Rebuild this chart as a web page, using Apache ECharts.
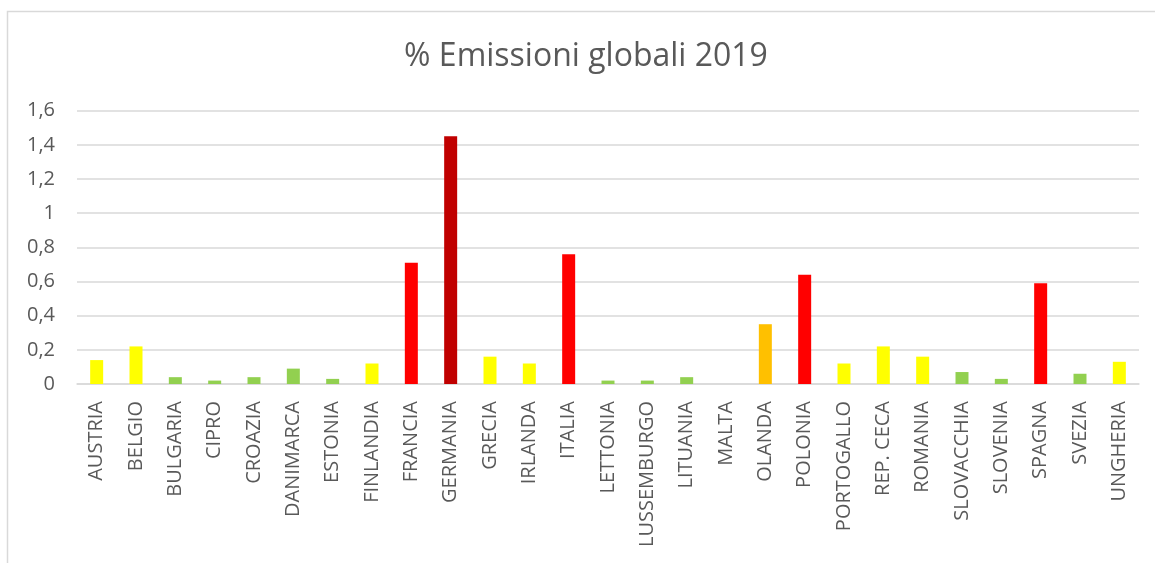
<!DOCTYPE html>
<html>
<head>
<meta charset="utf-8">
<script src="https://cdn.jsdelivr.net/npm/echarts@6/dist/echarts.min.js"></script>
<style>
  html, body { margin: 0; padding: 0; background: #ffffff; }
  #chart { width: 1155px; height: 563px; }
</style>
</head>
<body>
<div id="chart"></div>
<script>
// Paesi UE (in ordine alfabetico italiano)
const countries = [
  'AUSTRIA', 'BELGIO', 'BULGARIA', 'CIPRO', 'CROAZIA', 'DANIMARCA', 'ESTONIA',
  'FINLANDIA', 'FRANCIA', 'GERMANIA', 'GRECIA', 'IRLANDA', 'ITALIA', 'LETTONIA',
  'LUSSEMBURGO', 'LITUANIA', 'MALTA', 'OLANDA', 'POLONIA', 'PORTOGALLO',
  'REP. CECA', 'ROMANIA', 'SLOVACCHIA', 'SLOVENIA', 'SPAGNA', 'SVEZIA', 'UNGHERIA'
];

// Quota delle emissioni globali (%) nel 2019
const emissionShare = [
  0.14, 0.22, 0.04, 0.02, 0.04, 0.09, 0.03,
  0.12, 0.71, 1.45, 0.16, 0.12, 0.76, 0.02,
  0.02, 0.04, 0, 0.35, 0.64, 0.12,
  0.22, 0.16, 0.07, 0.03, 0.59, 0.06, 0.13
];

// Etichette dell'asse dei valori
const yTicks = [0, 0.2, 0.4, 0.6, 0.8, 1, 1.2, 1.4, 1.6];

// Fasce di emissione -> colore della barra
const bandLimits = [0.1, 0.3, 0.5, 1];
const bandColors = ['#92D050', '#FFFF00', '#FFC000', '#FF0000', '#C00000'];

const pieces = bandColors.map((c, i) => {
  const p = { color: c };
  if (i > 0) p.gte = bandLimits[i - 1];
  if (i < bandLimits.length) p.lt = bandLimits[i];
  return p;
});

const FONT = '"Open Sans", sans-serif';
const GREY = '#595959';
const LINE = '#D9D9D9';

const chart = echarts.init(document.getElementById('chart'), null, { renderer: 'canvas' });

chart.setOption({
  animation: false,
  backgroundColor: '#ffffff',
  graphic: [
    {
      type: 'rect',
      z: -1,
      shape: { x: 7.5, y: 11.5, width: 1300, height: 700 },
      style: { fill: 'none', stroke: LINE, lineWidth: 1.5 }
    },
    {
      type: 'text',
      x: 586,
      y: 57,
      style: {
        text: '% Emissioni globali 2019',
        fill: GREY,
        font: '32px ' + FONT,
        textAlign: 'center',
        textVerticalAlign: 'middle'
      }
    }
  ],
  visualMap: {
    show: false,
    type: 'piecewise',
    dimension: 1,
    seriesIndex: 0,
    pieces: pieces
  },
  grid: { left: 77, right: 16, top: 110.7, bottom: 179, containLabel: false },
  xAxis: {
    type: 'category',
    data: countries,
    axisTick: { show: false },
    axisLine: { show: true, lineStyle: { color: LINE, width: 1.5 } },
    axisLabel: {
      interval: 0,
      rotate: 90,
      margin: 17,
      color: GREY,
      fontFamily: FONT,
      fontSize: 20
    }
  },
  yAxis: {
    type: 'value',
    min: yTicks[0],
    max: yTicks[yTicks.length - 1],
    interval: 0.2,
    axisLine: { show: false },
    axisTick: { show: false },
    splitLine: { lineStyle: { color: LINE, width: 1.5 } },
    axisLabel: {
      margin: 22,
      color: GREY,
      fontFamily: FONT,
      fontSize: 20,
      formatter: v => {
        const t = yTicks.find(x => Math.abs(x - v) < 1e-9);
        return String(t !== undefined ? t : v).replace('.', ',');
      }
    }
  },
  series: [{
    type: 'bar',
    data: emissionShare,
    barWidth: 13
  }]
});
</script>
</body>
</html>
